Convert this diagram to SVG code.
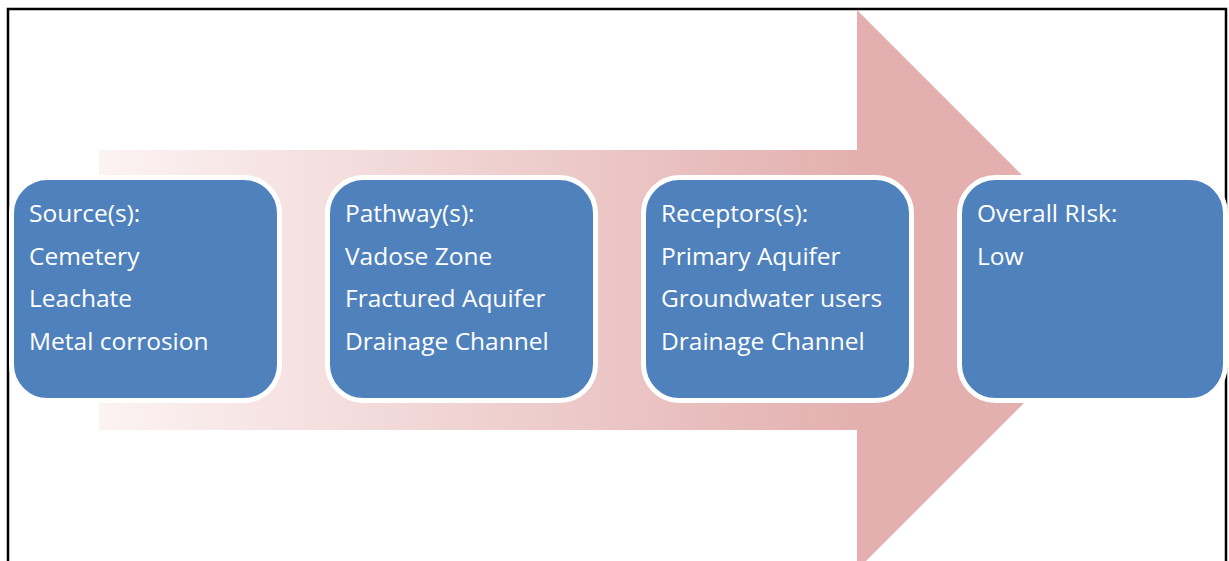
<svg xmlns="http://www.w3.org/2000/svg" width="1229" height="561" viewBox="0 0 1229 561">
  <style>
    .box { fill: #4f81bd; stroke: #ffffff; stroke-width: 5; }
    .lbl { font-family: "Open Sans", "Liberation Sans", sans-serif; font-size: 24.5px; fill: #ffffff; }
  </style>
  <defs>
    <linearGradient id="shaft" x1="99" y1="0" x2="860" y2="0" gradientUnits="userSpaceOnUse">
      <stop offset="0" stop-color="#fcf3f3"/>
      <stop offset="1" stop-color="#e3b0af"/>
    </linearGradient>
  </defs>
  <rect x="0" y="0" width="1229" height="561" fill="#ffffff"/>
  <path d="M8,562 V9 H1226 V562" fill="none" stroke="#000000" stroke-width="2.5"/>
  <g id="arrow">
    <rect x="99" y="150" width="760" height="280" fill="url(#shaft)"/>
    <polygon points="857,10 1137,290 857,570" fill="#e3b0af"/>
  </g>
  <g id="source">
    <rect class="box" x="11.5" y="177.5" width="268" height="223" rx="36"/>
    <text class="lbl" x="29" y="222">Source(s):</text>
    <text class="lbl" x="29" y="264.5">Cemetery</text>
    <text class="lbl" x="29" y="307">Leachate</text>
    <text class="lbl" x="29" y="349.5">Metal corrosion</text>
  </g>
  <g id="pathway">
    <rect class="box" x="327.5" y="177.5" width="268" height="223" rx="36"/>
    <text class="lbl" x="345" y="222">Pathway(s):</text>
    <text class="lbl" x="345" y="264.5">Vadose Zone</text>
    <text class="lbl" x="345" y="307">Fractured Aquifer</text>
    <text class="lbl" x="345" y="349.5">Drainage Channel</text>
  </g>
  <g id="receptors">
    <rect class="box" x="643.5" y="177.5" width="268" height="223" rx="36"/>
    <text class="lbl" x="661" y="222">Receptors(s):</text>
    <text class="lbl" x="661" y="264.5">Primary Aquifer</text>
    <text class="lbl" x="661" y="307">Groundwater users</text>
    <text class="lbl" x="661" y="349.5">Drainage Channel</text>
  </g>
  <g id="risk">
    <rect class="box" x="959.5" y="177.5" width="266" height="223" rx="36"/>
    <text class="lbl" x="977" y="222">Overall RIsk:</text>
    <text class="lbl" x="977" y="264.5">Low</text>
  </g>
  <g id="connectors"></g>
</svg>
